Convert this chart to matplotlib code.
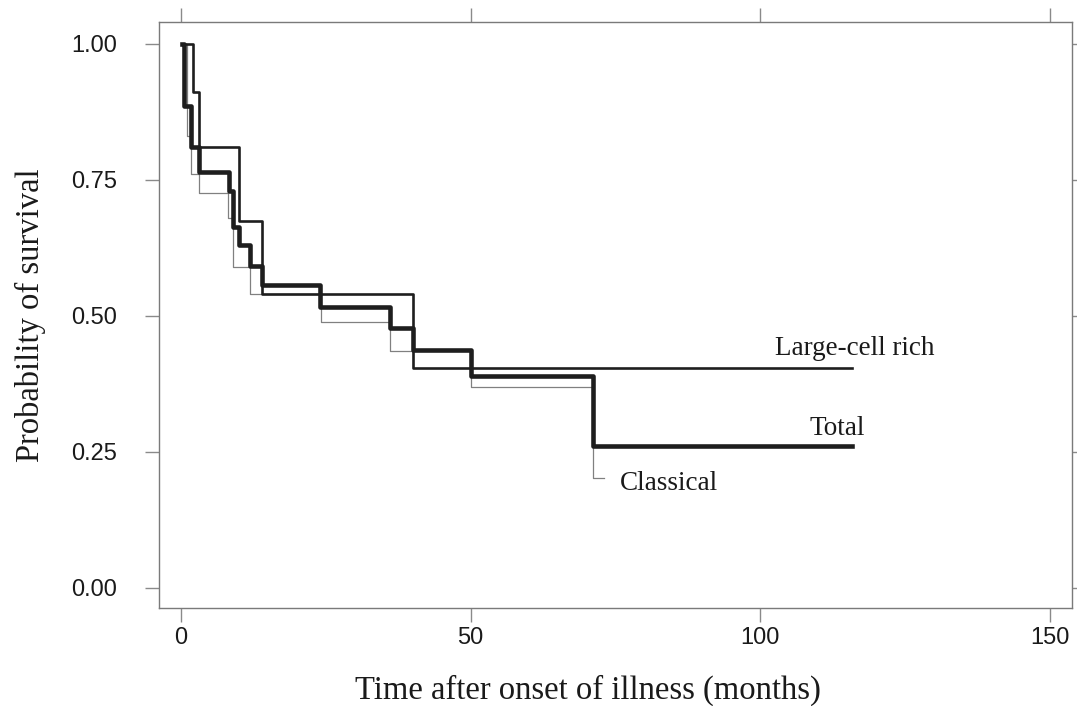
import matplotlib
matplotlib.use("Agg")
import matplotlib.pyplot as plt
import numpy as np

# Kaplan-Meier step data (time in months, survival probability)
total_t = [0.2, 0.6, 1.8, 3.1, 8.3, 9.0, 10.0, 11.9, 13.9, 24.0, 36.0, 40.1, 50.0, 71.1]
total_s = [1.0, 0.886, 0.811, 0.765, 0.730, 0.664, 0.630, 0.592, 0.556, 0.516, 0.477, 0.437, 0.390, 0.260]
total_end = 115.8

large_t = [0.5, 2.0, 3.1, 10.0, 14.0, 40.1]
large_s = [1.0, 0.911, 0.811, 0.675, 0.540, 0.405]
large_end = 115.8

classic_t = [0.2, 1.0, 1.8, 3.1, 8.2, 9.0, 11.9, 24.1, 36.0, 50.0, 71.1]
classic_s = [1.0, 0.830, 0.760, 0.7255, 0.680, 0.590, 0.540, 0.488, 0.4345, 0.370, 0.202]
classic_end = 73.0

x_ticks = [0, 50, 100, 150]
y_ticks = [0.00, 0.25, 0.50, 0.75, 1.00]
y_ticklabels = ["0.00", "0.25", "0.50", "0.75", "1.00"]

labels = {"Large-cell rich": (102.6, 0.428), "Total": (108.5, 0.281), "Classical": (75.7, 0.179)}

fig = plt.figure(figsize=(10.77, 7.06), dpi=100)
ax = fig.add_axes([0.1476, 0.1388, 0.8478, 0.8300])

def stepdata(t, s, end):
    return list(t) + [end], list(s) + [s[-1]]

xt, ys = stepdata(classic_t, classic_s, classic_end)
ax.step(xt, ys, where="post", color="#808080", lw=0.9, zorder=2)
xt, ys = stepdata(large_t, large_s, large_end)
ax.step(xt, ys, where="post", color="#1e1e1e", lw=1.9, zorder=3)
xt, ys = stepdata(total_t, total_s, total_end)
ax.step(xt, ys, where="post", color="#1e1e1e", lw=3.3, zorder=4)

ax.set_xlim(-3.8, 153.8)
ax.set_ylim(-0.037, 1.04)
ax.set_xticks(x_ticks)
ax.set_yticks(y_ticks)
ax.set_yticklabels(y_ticklabels)

for sp in ax.spines.values():
    sp.set_color("#7a7a7a")
    sp.set_linewidth(1.0)

ax.tick_params(axis="both", which="both", direction="out", length=10, width=1.0,
               color="#8a8a8a", top=True, right=True, labeltop=False, labelright=False,
               labelsize=17, labelcolor="#1a1a1a")
ax.tick_params(axis="x", pad=4)
ax.tick_params(axis="y", pad=20)
for lab in ax.get_xticklabels() + ax.get_yticklabels():
    lab.set_family("Liberation Sans")

ax.set_xlabel("Time after onset of illness (months)", family="Liberation Serif",
              fontsize=23.5, color="#1a1a1a")
ax.set_ylabel("Probability of survival", family="Liberation Serif",
              fontsize=23.5, color="#1a1a1a")
ax.xaxis.label.set_va("center")
ax.yaxis.label.set_va("center")
ax.xaxis.set_label_coords(0.470, -0.140)
ax.yaxis.set_label_coords(-0.141, 0.5)

for txt, (x, y) in labels.items():
    ax.text(x, y, txt, family="Liberation Serif", fontsize=19.5, color="#1a1a1a",
            ha="left", va="baseline")

fig.savefig("out.png", dpi=100, facecolor="white")
